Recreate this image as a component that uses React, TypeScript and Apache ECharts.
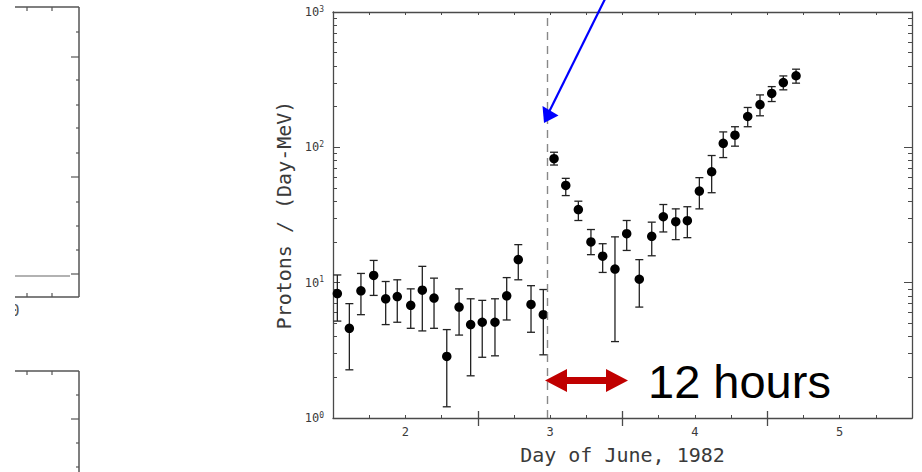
import React, { useEffect, useRef } from "react";
import * as echarts from "echarts";

// Day of June 1982 (bin centres) and proton intensity, with error-bar bounds
const days = [
  1.530, 1.613, 1.693, 1.781, 1.864, 1.944, 2.037, 2.117, 2.198, 2.286,
  2.371, 2.451, 2.531, 2.619, 2.700, 2.780, 2.868, 2.953, 3.027, 3.108,
  3.195, 3.282, 3.363, 3.448, 3.529, 3.616, 3.702, 3.782, 3.868, 3.948,
  4.031, 4.116, 4.196, 4.277, 4.365, 4.450, 4.531, 4.611, 4.699,
];
const protons = [
  8.3, 4.6, 8.7, 11.3, 7.6, 7.9, 6.8, 8.8, 7.7, 2.85,
  6.6, 4.9, 5.1, 5.1, 8.0, 14.8, 6.9, 5.8, 82.5, 52.3,
  34.7, 20.0, 15.7, 12.6, 23.0, 10.6, 22.0, 30.7, 28.2, 28.7,
  47.5, 66, 107, 123, 169, 207, 250, 301, 338,
];
const errLow = [
  5.2, 2.27, 5.8, 8.05, 4.9, 5.1, 4.6, 4.4, 4.6, 1.21,
  4.1, 2.05, 2.81, 2.88, 5.3, 10.5, 4.3, 2.93, 74, 44,
  28.8, 16.1, 11.9, 3.67, 17.3, 6.6, 15.8, 23.7, 20.8, 21.5,
  35.1, 46.2, 84, 102, 142, 171, 218, 266, 298,
];
const errHigh = [
  11.4, 7.0, 11.7, 14.6, 10.2, 10.5, 9.0, 13.2, 10.8, 4.5,
  9.0, 7.6, 7.4, 7.6, 10.9, 19.1, 9.5, 8.9, 92, 59,
  40, 24.7, 19.4, 21.8, 28.8, 14.8, 28, 37.8, 35.1, 36.4,
  59.7, 87, 130, 142, 197, 244, 281, 337, 378,
];
const eventDay = 2.98;
const xLabelTicks = [2, 3, 4, 5];
const xHalfTicks = [2.5, 3.5, 4.5];
const yDecades = [0, 1, 2];
const yMinorMultipliers = [2, 3, 4, 5, 6, 7, 8, 9];

const MONO = "DejaVu Sans Mono";
const AXIS = "#4a4a4a";
const TEXT = "#3a3a3a";

export default function App() {
  const ref = useRef<HTMLDivElement>(null);

  useEffect(() => {
    if (!ref.current) return;
    const chart = echarts.init(ref.current, null, { renderer: "svg" });

    const minorLogs: number[] = [];
    yDecades.forEach((d) =>
      yMinorMultipliers.forEach((m) => minorLogs.push(Math.log10(m) + d))
    );

    const points = days.map((d, i) => [d, protons[i]]);
    const bars = days.map((d, i) => [d, errLow[i], errHigh[i]]);

    const leftPanels: any[] = [];
    const ln = (x1: number, y1: number, x2: number, y2: number, w = 1.5, c = "#555") =>
      leftPanels.push({ type: "line", shape: { x1, y1, x2, y2 }, style: { stroke: c, lineWidth: w } });
    // panel 1
    ln(15, 7, 79, 7);
    ln(79, 7, 79, 297);
    ln(15, 297, 79, 297);
    ln(15, 276, 70, 276, 1.2, "#666");
    [27, 52].forEach((x) => { ln(x, 7, x, 11, 1.2); ln(x, 297, x, 293, 1.2); });
    [32, 80, 105, 128, 153, 202, 226, 250].forEach((y) => ln(79, y, 76, y, 1.2));
    [57, 177, 274].forEach((y) => ln(79, y, 71, y, 1.2));
    // panel 2
    ln(15, 371, 79, 371);
    ln(79, 371, 79, 472);
    [27, 52].forEach((x) => ln(x, 371, x, 375, 1.2));
    [395, 443, 467].forEach((y) => ln(79, y, 76, y, 1.2));
    ln(79, 419, 71, 419, 1.2);
    leftPanels.push({
      type: "text",
      style: { text: "0", x: 15, y: 311, fontSize: 15, fontFamily: MONO, fill: "#555", align: "center", verticalAlign: "middle" },
    });
    leftPanels.push({ type: "rect", shape: { x: 0, y: 290, width: 15, height: 40 }, style: { fill: "#fff" } });

    const option: any = {
      animation: false,
      backgroundColor: "#fff",
      grid: { left: 333, right: 10, top: 12, bottom: 54 },
      xAxis: [
        {
          type: "value", position: "bottom", min: 1.5, max: 5.5, interval: 0.25,
          axisLine: { show: true, lineStyle: { color: AXIS, width: 1.3 } },
          axisTick: { show: true, inside: true, length: 3, lineStyle: { color: AXIS } },
          axisLabel: {
            show: true, customValues: xLabelTicks, margin: 8,
            formatter: (v: number) => String(Math.round(v)),
            fontSize: 12, fontFamily: MONO, color: TEXT,
          },
          splitLine: { show: false },
          name: "Day of June, 1982", nameLocation: "middle", nameGap: 27,
          nameTextStyle: { fontSize: 20, fontFamily: MONO, color: TEXT },
        },
        {
          type: "value", position: "bottom", min: 1.5, max: 5.5,
          axisLine: { show: false },
          axisTick: { show: true, customValues: xHalfTicks, inside: false, length: 8, lineStyle: { color: AXIS, width: 1.3 } },
          axisLabel: { show: false }, splitLine: { show: false },
        },
        {
          type: "value", position: "bottom", min: 1.5, max: 5.5,
          axisLine: { show: false },
          axisTick: { show: true, customValues: xHalfTicks, inside: true, length: 7, lineStyle: { color: AXIS, width: 1.3 } },
          axisLabel: { show: false }, splitLine: { show: false },
        },
        {
          type: "value", position: "top", min: 1.5, max: 5.5, interval: 0.25,
          axisLine: { show: true, lineStyle: { color: AXIS, width: 1.3 } },
          axisTick: { show: true, inside: true, length: 3, lineStyle: { color: AXIS } },
          axisLabel: { show: false }, splitLine: { show: false },
        },
      ],
      yAxis: [
        {
          type: "log", logBase: 10, position: "left", min: 1, max: 1000,
          axisLine: { show: true, lineStyle: { color: AXIS, width: 1.3 } },
          axisTick: { show: true, inside: true, length: 7, lineStyle: { color: AXIS } },
          axisLabel: {
            formatter: (v: number) => "{b|10}{s|" + Math.round(Math.log10(v)) + "}",
            margin: 9,
            rich: {
              b: { fontSize: 12, fontFamily: MONO, color: TEXT, lineHeight: 14 },
              s: { fontSize: 8, fontFamily: MONO, color: TEXT, verticalAlign: "top", lineHeight: 14, padding: [0, 0, 6, 0] },
            },
          },
          splitLine: { show: false },
          name: "Protons / (Day-MeV)", nameLocation: "middle", nameGap: 37,
          nameTextStyle: { fontSize: 20, fontFamily: MONO, color: TEXT },
        },
        {
          type: "value", position: "left", min: 0, max: 3,
          axisLine: { show: false },
          axisTick: { show: true, customValues: minorLogs, inside: true, length: 4, lineStyle: { color: AXIS } },
          axisLabel: { show: false }, splitLine: { show: false },
        },
        {
          type: "value", position: "right", min: 0, max: 3,
          axisLine: { show: true, lineStyle: { color: AXIS, width: 1.3 } },
          axisTick: { show: true, customValues: minorLogs, inside: true, length: 4, lineStyle: { color: AXIS } },
          axisLabel: { show: false }, splitLine: { show: false },
        },
        {
          type: "value", position: "right", min: 0, max: 3, interval: 1,
          axisLine: { show: false },
          axisTick: { show: true, inside: true, length: 8, lineStyle: { color: AXIS } },
          axisLabel: { show: false }, splitLine: { show: false },
        },
      ],
      series: [
        {
          type: "custom",
          xAxisIndex: 0,
          yAxisIndex: 0,
          data: bars,
          renderItem: (_params: any, api: any) => {
            const x = api.value(0);
            const lo = api.coord([x, api.value(1)]);
            const hi = api.coord([x, api.value(2)]);
            const hw = 4;
            const st = { stroke: "#222", lineWidth: 1.3 };
            return {
              type: "group",
              children: [
                { type: "line", shape: { x1: lo[0], y1: lo[1], x2: hi[0], y2: hi[1] }, style: st },
                { type: "line", shape: { x1: lo[0] - hw, y1: lo[1], x2: lo[0] + hw, y2: lo[1] }, style: st },
                { type: "line", shape: { x1: hi[0] - hw, y1: hi[1], x2: hi[0] + hw, y2: hi[1] }, style: st },
              ],
            };
          },
          z: 2,
        },
        {
          type: "scatter",
          xAxisIndex: 0,
          yAxisIndex: 0,
          data: points,
          symbol: "circle",
          symbolSize: 9.5,
          itemStyle: { color: "#000", opacity: 1 },
          z: 3,
          markLine: {
            silent: true,
            symbol: ["none", "none"],
            label: { show: false },
            lineStyle: { type: [8, 6], color: "#888", width: 1.4 },
            data: [{ xAxis: eventDay }],
          },
        },
      ],
      graphic: [
        ...leftPanels,
        { type: "line", shape: { x1: 606, y1: -3, x2: 549, y2: 112 }, style: { stroke: "#0000ff", lineWidth: 2.2 }, z: 10 },
        { type: "polygon", shape: { points: [[544, 123], [542.5, 106], [558.5, 115.5]] }, style: { fill: "#0000ff" }, z: 10 },
        {
          type: "polygon",
          shape: {
            points: [[545, 380.5], [567, 369], [567, 377], [606, 377], [606, 369], [628, 380.5], [606, 392], [606, 384], [567, 384], [567, 392]],
          },
          style: { fill: "#c00000" },
          z: 10,
        },
        {
          type: "text",
          style: { text: "12 hours", x: 648, y: 381, fontSize: 47, fontFamily: "Liberation Sans, Arial", fill: "#000", verticalAlign: "middle" },
          z: 10,
        },
      ],
    };

    chart.setOption(option);
    return () => chart.dispose();
  }, []);

  return (
    <div
      ref={ref}
      style={{ position: "fixed", left: 0, top: 0, width: 922, height: 472, background: "#fff" }}
    />
  );
}
